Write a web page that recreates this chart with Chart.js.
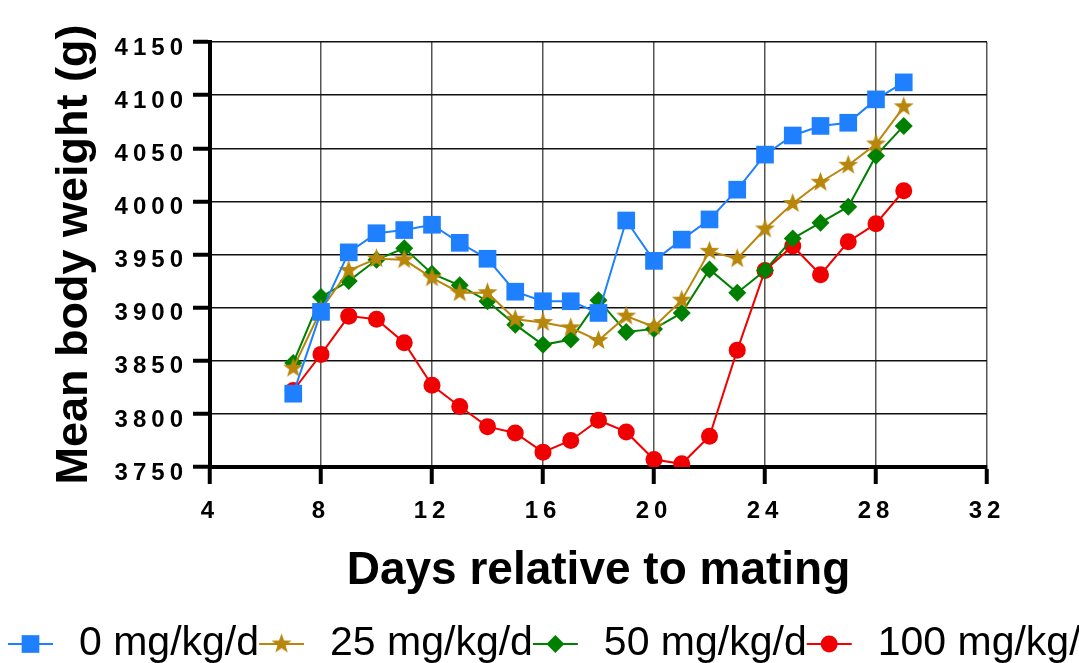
<!DOCTYPE html>
<html>
<head>
<meta charset="utf-8">
<script src="https://cdn.jsdelivr.net/npm/chart.js@4.4.0/dist/chart.umd.min.js"></script>
<style>
    html, body { margin: 0; padding: 0; background: #fff; overflow: hidden; }
    canvas { display: block; }
</style>
</head>
<body>
<canvas id="weightChart" width="1079" height="663"></canvas>
<script>
const days = [7, 8, 9, 10, 11, 12, 13, 14, 15, 16, 17, 18, 19, 20, 21, 22, 23, 24, 25, 26, 27, 28, 29];
const seriesLabels = ['0 mg/kg/d', '25 mg/kg/d', '50 mg/kg/d', '100 mg/kg/d'];
const dose0 = [3819, 3896, 3952, 3970, 3973, 3978, 3961, 3946, 3915, 3906, 3906, 3895, 3982, 3944, 3964, 3983, 4011, 4044, 4062, 4071, 4074, 4096, 4112];
const dose25 = [3843, 3898, 3935, 3946, 3945, 3928, 3914, 3914, 3889, 3886, 3881, 3869, 3892, 3882, 3907, 3953, 3946, 3974, 3998, 4018, 4034, 4054, 4089];
const dose50 = [3848, 3910, 3925, 3945, 3956, 3932, 3921, 3906, 3884, 3865, 3870, 3907, 3877, 3880, 3895, 3936, 3914, 3935, 3965, 3980, 3995, 4043, 4071];
const dose100 = [3822, 3856, 3892, 3889, 3867, 3827, 3807, 3788, 3782, 3764, 3775, 3794, 3783, 3757, 3753, 3779, 3860, 3935, 3958, 3931, 3962, 3979, 4010];

const BLUE = 'rgb(30,128,255)';
const GOLD = 'rgb(184,134,11)';
const GREEN = 'rgb(0,128,0)';
const RED = 'rgb(240,0,0)';
const FONT = "'Liberation Sans', Arial, sans-serif";

// filled five point star, used as the point style for the 25 mg/kg/d series
function makeStar(color, outer, inner) {
    const c = document.createElement('canvas');
    const s = Math.ceil(outer * 2 + 2);
    c.width = s;
    c.height = s;
    const g = c.getContext('2d');
    g.fillStyle = color;
    g.beginPath();
    for (let i = 0; i < 10; i++) {
        const r = i % 2 === 0 ? outer : inner;
        const a = -Math.PI / 2 + i * Math.PI / 5;
        const px = s / 2 + r * Math.cos(a);
        const py = s / 2 + r * Math.sin(a);
        if (i === 0) g.moveTo(px, py); else g.lineTo(px, py);
    }
    g.closePath();
    g.fill();
    return c;
}
const starImg = makeStar(GOLD, 10.5, 4.3);

const toPoints = values => values.map((v, i) => ({ x: days[i], y: v }));

function drawMarker(ctx, ds, x, y) {
    ctx.fillStyle = ds.pointBackgroundColor;
    const style = ds.pointStyle;
    const r = ds.pointRadius;
    ctx.beginPath();
    if (style === 'rect') {
        const h = Math.SQRT1_2 * r;
        ctx.rect(x - h, y - h, h * 2, h * 2);
    } else if (style === 'rectRot') {
        ctx.moveTo(x, y - r);
        ctx.lineTo(x + r, y);
        ctx.lineTo(x, y + r);
        ctx.lineTo(x - r, y);
        ctx.closePath();
    } else if (style === 'circle') {
        ctx.arc(x, y, r, 0, Math.PI * 2);
    } else {
        ctx.drawImage(style, x - style.width / 2, y - style.height / 2);
        return;
    }
    ctx.fill();
}

const bottomLegend = {
    id: 'bottomLegend',
    afterDatasetsDraw(chart) {
        // tick labels are drawn after the datasets (ticks.z = 1), spaced out like the original
        chart.ctx.letterSpacing = '5px';
    },
    afterDraw(chart) {
        const ctx = chart.ctx;
        ctx.save();
        ctx.letterSpacing = '0px';
        ctx.font = '41px ' + FONT;
        ctx.textBaseline = 'middle';
        ctx.textAlign = 'left';
        const y = 644;
        let x = 8;
        chart.data.datasets.forEach(ds => {
            ctx.strokeStyle = ds.borderColor;
            ctx.lineWidth = 2;
            ctx.beginPath();
            ctx.moveTo(x, y);
            ctx.lineTo(x + 45, y);
            ctx.stroke();
            drawMarker(ctx, ds, x + 22.5, y);
            ctx.fillStyle = '#000';
            ctx.fillText(ds.label, x + 71, y);
            x += 71 + ctx.measureText(ds.label).width;
        });
        ctx.restore();
    }
};

const ctx = document.getElementById('weightChart').getContext('2d');
new Chart(ctx, {
    type: 'line',
    data: {
        datasets: [
            { label: seriesLabels[0], data: toPoints(dose0), borderColor: BLUE, pointBackgroundColor: BLUE, pointBorderColor: BLUE,
              pointStyle: 'rect', pointRadius: 12.5, pointBorderWidth: 0 },
            { label: seriesLabels[1], data: toPoints(dose25), borderColor: GOLD, pointBackgroundColor: GOLD, pointBorderColor: GOLD,
              pointStyle: starImg, pointRadius: 10, pointBorderWidth: 0 },
            { label: seriesLabels[2], data: toPoints(dose50), borderColor: GREEN, pointBackgroundColor: GREEN, pointBorderColor: GREEN,
              pointStyle: 'rectRot', pointRadius: 9, pointBorderWidth: 0 },
            { label: seriesLabels[3], data: toPoints(dose100), borderColor: RED, pointBackgroundColor: RED, pointBorderColor: RED,
              pointStyle: 'circle', pointRadius: 8.5, pointBorderWidth: 0 }
        ]
    },
    options: {
        responsive: false,
        animation: false,
        events: [],
        layout: { padding: { left: 0, top: 42, right: 92, bottom: 0 } },
        elements: {
            line: { borderWidth: 2, tension: 0, fill: false }
        },
        plugins: {
            legend: { display: false },
            tooltip: { enabled: false }
        },
        scales: {
            x: {
                type: 'linear',
                min: 4,
                max: 32,
                afterFit: scale => { scale.height = 196; },
                ticks: {
                    stepSize: 4,
                    z: 1,
                    padding: 13,
                    color: '#000',
                    font: { family: FONT, size: 24, weight: 'bold' },
                    maxRotation: 0,
                    callback: value => String(value)
                },
                grid: {
                    color: '#555',
                    lineWidth: 1.5,
                    tickColor: '#000',
                    tickWidth: 4,
                    tickLength: 17
                },
                border: { display: true, color: '#000', width: 4 },
                title: {
                    display: true,
                    text: 'Days relative to mating',
                    color: '#000',
                    font: { family: FONT, size: 46, weight: 'bold', lineHeight: 1 },
                    padding: { top: 0, bottom: 69 }
                }
            },
            y: {
                min: 3750,
                max: 4150,
                afterFit: scale => { scale.width = 210; },
                ticks: {
                    stepSize: 50,
                    z: 1,
                    padding: 5,
                    labelOffset: 6,
                    color: '#000',
                    font: { family: FONT, size: 24, weight: 'bold' },
                    callback: value => String(value)
                },
                grid: {
                    color: '#111',
                    lineWidth: 1.5,
                    tickColor: '#000',
                    tickWidth: 4,
                    tickLength: 17
                },
                border: { display: true, color: '#000', width: 4 },
                title: {
                    display: true,
                    text: 'Mean body weight (g)',
                    color: '#000',
                    font: { family: FONT, size: 45, weight: 'bold', lineHeight: 1 },
                    padding: { top: 52, bottom: 0 }
                }
            }
        }
    },
    plugins: [bottomLegend]
});
</script>
</body>
</html>
